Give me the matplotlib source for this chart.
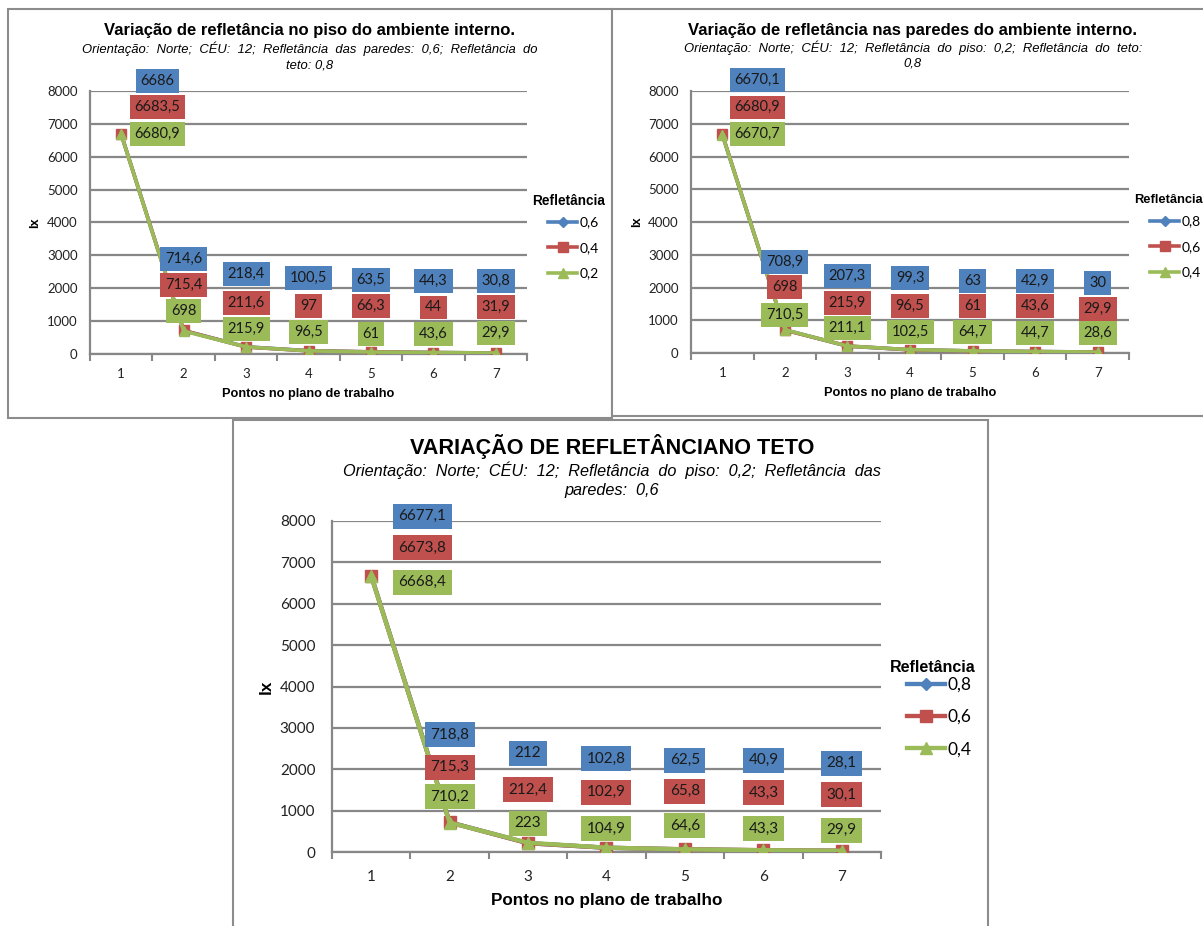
import numpy as np
from matplotlib import pyplot as plt
from matplotlib.patches import Rectangle

# pontos no plano de trabalho
pontos = [1, 2, 3, 4, 5, 6, 7]

# variação no piso (paredes 0,6; teto 0,8)
piso_06 = [6686, 714.6, 218.4, 100.5, 63.5, 44.3, 30.8]
piso_04 = [6683.5, 715.4, 211.6, 97, 66.3, 44, 31.9]
piso_02 = [6680.9, 698, 215.9, 96.5, 61, 43.6, 29.9]

# variação nas paredes (piso 0,2; teto 0,8)
paredes_08 = [6670.1, 708.9, 207.3, 99.3, 63, 42.9, 30]
paredes_06 = [6680.9, 698, 215.9, 96.5, 61, 43.6, 29.9]
paredes_04 = [6670.7, 710.5, 211.1, 102.5, 64.7, 44.7, 28.6]

# variação no teto (piso 0,2; paredes 0,6)
teto_08 = [6677.1, 718.8, 212, 102.8, 62.5, 40.9, 28.1]
teto_06 = [6673.8, 715.3, 212.4, 102.9, 65.8, 43.3, 30.1]
teto_04 = [6668.4, 710.2, 223, 104.9, 64.6, 43.3, 29.9]

# onde ficam os rótulos de dados (em lx), uma linha por série
piso_lab_y = [[8300, 2890, 2430, 2310, 2250, 2220, 2220],
              [7510, 2100, 1550, 1460, 1460, 1420, 1430],
              [6690, 1310, 760, 670, 610, 610, 630]]
paredes_lab_y = [[8330, 2780, 2350, 2290, 2200, 2200, 2130],
                 [7500, 2010, 1520, 1430, 1430, 1430, 1340],
                 [6680, 1160, 760, 640, 640, 610, 610]]
teto_lab_y = [[8120, 2830, 2390, 2250, 2220, 2220, 2150],
              [7350, 2050, 1500, 1450, 1470, 1430, 1380],
              [6525, 1330, 700, 560, 630, 560, 530]]

cores = ['#4F81BD', '#C0504D', '#9BBB59']
marcadores = ['D', 's', '^']
tam_marc = [5.5, 7, 7.5]
cinza = '#878787'
TITLE_FONT = 'Liberation Sans'
NUM_FONT = 'Lato'

W, H = 1203, 926
fig = plt.figure(figsize=(W / 100, H / 100), dpi=100)


def rect(l, t, r, b):
    return [l / W, 1 - b / H, (r - l) / W, (b - t) / H]


def fmt(v):
    if float(v).is_integer():
        return str(int(v))
    return ('%.1f' % v).replace('.', ',')


def painel(box, series, nomes, lab_y, titulo, sub, pos, leg, fs, dx1, esp):
    ax = fig.add_axes(rect(*box))
    ax.set_facecolor('none')
    k = fs['lw']
    for i in range(3):
        ax.plot(pontos, series[i], color=cores[i], marker=marcadores[i],
                lw=2.6 * k, ms=tam_marc[i] * k, label=nomes[i], zorder=3 + i)
    for i in range(3):
        for j, v in enumerate(series[i]):
            x = pontos[j] + (dx1 if j == 0 else 0)
            ax.text(x, lab_y[i][j], fmt(v), ha='center', va='center',
                    fontsize=fs['rot'], family=NUM_FONT, color='#1a1a1a', zorder=10,
                    bbox=dict(boxstyle='square,pad=%.2f' % fs['pad'], fc=cores[i], ec='none'))
    ax.set_xlim(0.5, 7.5)
    ax.set_ylim(0, 8000)
    ax.set_yticks(np.arange(0, 8001, 1000))
    ax.set_xticks(pontos)
    ax.set_xticks(np.arange(0.5, 8, 1), minor=True)
    ax.tick_params(axis='x', which='major', length=0, pad=fs['xpad'])
    ax.tick_params(axis='x', which='minor', length=5, width=1.5, color=cinza, direction='out')
    ax.tick_params(axis='y', length=0, pad=fs['ypad'])
    for lab in ax.get_xticklabels() + ax.get_yticklabels():
        lab.set_family(NUM_FONT)
        lab.set_fontsize(fs['tick'])
        lab.set_color('#222222')
    ax.grid(axis='y', color=cinza, lw=1.6)
    ax.set_axisbelow(True)
    for s in ['top', 'right']:
        ax.spines[s].set_visible(False)
    for s in ['left', 'bottom']:
        ax.spines[s].set_color(cinza)
        ax.spines[s].set_linewidth(1.6)
    ax.set_ylabel('lx', family=TITLE_FONT, fontweight='bold', fontsize=fs['eixo'])
    ax.set_xlabel('Pontos no plano de trabalho', family=TITLE_FONT, fontweight='bold',
                  fontsize=fs['eixo'])
    ax.yaxis.set_label_coords(pos[4], 0.5)
    ax.xaxis.set_label_coords(0.5, pos[5])

    cx = pos[0]
    fig.text(cx / W, 1 - pos[1] / H, titulo, ha='center', va='center', family=TITLE_FONT,
             fontweight='bold', fontsize=fs['tit'])
    for linha, y in zip(sub, (pos[2], pos[3])):
        fig.text(cx / W, 1 - y / H, linha, ha='center', va='center', family=TITLE_FONT,
                 style='italic', fontsize=fs['sub'])

    # legenda
    fig.text(leg[0] / W, 1 - leg[1] / H, 'Refletância', ha='left', va='center',
             family=TITLE_FONT, fontweight='bold', fontsize=leg[4])
    ax.legend(loc='center left', bbox_to_anchor=(leg[2] / W, 1 - leg[3] / H),
              bbox_transform=fig.transFigure, frameon=False, borderpad=0,
              borderaxespad=0, handlelength=esp, handletextpad=0.15,
              labelspacing=fs['lsp'], prop={'family': NUM_FONT, 'size': fs['leg']})
    return ax


pequeno = dict(tit=12, sub=9.4, tick=9.5, eixo=9.2, leg=10, lsp=0.97,
               rot=10.5, pad=0.33, xpad=10, ypad=9, lw=1.0)
grande = dict(tit=15.6, sub=11.7, tick=11, eixo=12.3, leg=12.5, lsp=0.94,
              rot=11, pad=0.36, xpad=13, ypad=12, lw=1.2)

# molduras dos gráficos
for l, t, r, b in [(8, 9, 612, 418), (612, 9, 1215, 416), (233, 420, 988, 940)]:
    fig.add_artist(Rectangle((l / W, 1 - b / H), (r - l) / W, (b - t) / H,
                             transform=fig.transFigure, fc='white', ec='#8c8c8c',
                             lw=1.5, zorder=0))

painel((90, 91, 527, 354), [piso_06, piso_04, piso_02], ['0,6', '0,4', '0,2'], piso_lab_y,
       'Variação de refletância no piso do ambiente interno.',
       ['Orientação:  Norte;  CÉU:  12;  Refletância  das  paredes:  0,6;  Refletância  do',
        'teto: 0,8'],
       (310, 31, 49, 65, -0.112, -0.129), (532, 201, 548, 248, 9.8), pequeno, 0.58, 2.1)

painel((691, 91, 1129, 353), [paredes_08, paredes_06, paredes_04], ['0,8', '0,6', '0,4'],
       paredes_lab_y,
       'Variação de refletância nas paredes do ambiente interno.',
       ['Orientação:  Norte;  CÉU:  12;  Refletância  do  piso:  0,2;  Refletância  do  teto:',
        '0,8'],
       (913, 31, 48, 64, -0.11, -0.13), (1134, 200, 1150, 247, 9.3), pequeno, 0.56, 2.1)

painel((332, 521, 881, 852), [teto_08, teto_06, teto_04], ['0,8', '0,6', '0,4'], teto_lab_y,
       'VARIAÇÃO DE REFLETÂNCIANO TETO',
       ['Orientação:  Norte;  CÉU:  12;  Refletância  do  piso:  0,2;  Refletância  das',
        'paredes:  0,6'],
       (612, 446, 470, 490, -0.107, -0.124), (890, 667, 907, 717, 11.5), grande, 0.65, 2.2)

fig.savefig('out.png', dpi=100)
